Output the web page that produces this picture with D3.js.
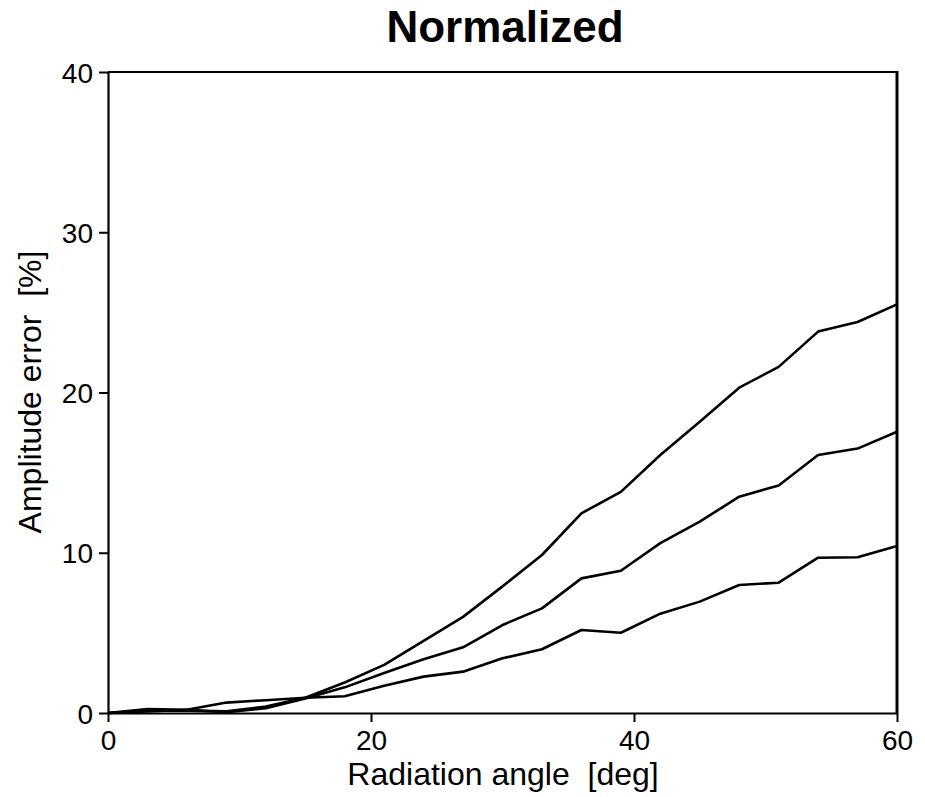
<!DOCTYPE html>
<html>
<head>
<meta charset="utf-8">
<script src="https://cdn.jsdelivr.net/npm/d3@7"></script>
<style>
  html, body { margin: 0; padding: 0; background: #fff; }
  svg { display: block; }
  text { font-family: "Liberation Sans", Arial, Helvetica, sans-serif; fill: #000; white-space: pre; }
</style>
</head>
<body>
<svg id="chart" width="925" height="797"></svg>
<script>
// ---- data ----
const angles = [0,3,6,9,12,15,18,21,24,27,30,33,36,39,42,45,48,51,54,57,60];
const seriesHigh = [0,0.15,0.15,0.1,0.4,0.95,1.9,3.0,4.5,6.0,7.9,9.86,12.46,13.8,16.1,18.18,20.3,21.6,23.8,24.4,25.5];
const seriesMid  = [0,0.1,0.2,0.05,0.3,0.9,1.6,2.5,3.35,4.1,5.49,6.53,8.4,8.88,10.6,11.94,13.5,14.2,16.1,16.5,17.55];
const seriesLow  = [0,0.25,0.2,0.65,0.8,0.95,1.05,1.7,2.27,2.58,3.41,3.98,5.18,5.01,6.2,6.95,7.99,8.13,9.69,9.72,10.42];
const xTicks = [0,20,40,60];
const yTicks = [0,10,20,30,40];
const title = "Normalized";
const xLabel = "Radiation angle  [deg]";
const yLabel = "Amplitude error  [%]";

// ---- layout ----
const svg = d3.select("#chart");
const pLeft = 108, pRight = 897, pTop = 72, pBottom = 713;
const x = d3.scaleLinear().domain([0,60]).range([pLeft,pRight]);
const y = d3.scaleLinear().domain([0,40]).range([pBottom,pTop]);

// frame (top and right)
svg.append("line").attr("x1", pLeft).attr("x2", pRight).attr("y1", pTop).attr("y2", pTop)
  .attr("stroke","#000").attr("stroke-width",2);
svg.append("line").attr("x1", pRight).attr("x2", pRight).attr("y1", pTop-1).attr("y2", pBottom)
  .attr("stroke","#000").attr("stroke-width",3);

// axes
const xAxis = svg.append("g").attr("transform", `translate(0,${pBottom})`)
  .call(d3.axisBottom(x).tickValues(xTicks).tickSize(9).tickSizeOuter(0).tickPadding(6));
const yAxis = svg.append("g").attr("transform", `translate(${pLeft},0)`)
  .call(d3.axisLeft(y).tickValues(yTicks).tickSize(9).tickSizeOuter(0).tickPadding(6));
[xAxis, yAxis].forEach(g => {
  g.select(".domain").attr("stroke","#000").attr("stroke-width",2.2);
  g.selectAll(".tick line").attr("stroke","#000").attr("stroke-width",2);
  g.selectAll(".tick text").attr("font-size", 28).attr("fill","#000")
    .attr("font-family", "'Liberation Sans', Arial, sans-serif");
});
xAxis.selectAll(".tick text").attr("dy","0.8em");
yAxis.selectAll(".tick text").attr("dy","0.36em");

// lines
const line = d3.line().x((d,i) => x(angles[i])).y(d => y(d));
[seriesHigh, seriesMid, seriesLow].forEach(s => {
  svg.append("path").datum(s).attr("d", line)
    .attr("fill","none").attr("stroke","#000").attr("stroke-width",2.6)
    .attr("stroke-linejoin","round");
});

// titles
svg.append("text").attr("x", 505).attr("y", 42).attr("text-anchor","middle")
  .attr("font-size", 44).attr("font-weight","bold").text(title);
svg.append("text").attr("x", 503).attr("y", 785).attr("text-anchor","middle")
  .attr("xml:space","preserve").attr("font-size", 32).text(xLabel);
svg.append("text").attr("transform", `translate(41,392) rotate(-90)`).attr("text-anchor","middle")
  .attr("xml:space","preserve").attr("font-size", 32).text(yLabel);
</script>
</body>
</html>
